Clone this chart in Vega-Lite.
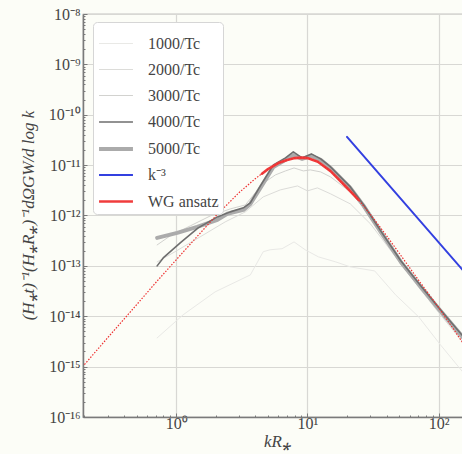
{
  "$schema": "https://vega.github.io/schema/vega-lite/v6.json",
  "width": 380,
  "height": 403,
  "autosize": {"type": "none"},
  "padding": {"left": 83, "top": 14, "right": 0, "bottom": 37},
  "background": "#fcfdf7",
  "config": {
    "view": {"stroke": "#8c8c8c", "strokeWidth": 1.2},
    "font": "Liberation Serif"
  },
  "datasets": {
    "spectra": [
      {"s": "1000/Tc", "k": 0.716, "v": 3.72e-15},
      {"s": "1000/Tc", "k": 1.13, "v": 1.07e-14},
      {"s": "1000/Tc", "k": 1.98, "v": 3.05e-14},
      {"s": "1000/Tc", "k": 3.67, "v": 6.61e-14},
      {"s": "1000/Tc", "k": 4.6, "v": 1.91e-13},
      {"s": "1000/Tc", "k": 5.2, "v": 2.09e-13},
      {"s": "1000/Tc", "k": 6.4, "v": 2.19e-13},
      {"s": "1000/Tc", "k": 7.9, "v": 2.99e-13},
      {"s": "1000/Tc", "k": 9.6, "v": 2.09e-13},
      {"s": "1000/Tc", "k": 12.1, "v": 1.51e-13},
      {"s": "1000/Tc", "k": 16.4, "v": 1.2e-13},
      {"s": "1000/Tc", "k": 21.2, "v": 9.55e-14},
      {"s": "1000/Tc", "k": 32.5, "v": 7.94e-14},
      {"s": "1000/Tc", "k": 46.9, "v": 2.66e-14},
      {"s": "1000/Tc", "k": 70.2, "v": 9.77e-15},
      {"s": "1000/Tc", "k": 103, "v": 2.71e-15},
      {"s": "1000/Tc", "k": 152, "v": 7.89e-16},

      {"s": "2000/Tc", "k": 0.716, "v": 1.2e-13},
      {"s": "2000/Tc", "k": 0.98, "v": 1.91e-13},
      {"s": "2000/Tc", "k": 1.52, "v": 3.76e-13},
      {"s": "2000/Tc", "k": 2.36, "v": 7.46e-13},
      {"s": "2000/Tc", "k": 3.36, "v": 1.18e-12},
      {"s": "2000/Tc", "k": 4.6, "v": 2.34e-12},
      {"s": "2000/Tc", "k": 6.2, "v": 3.22e-12},
      {"s": "2000/Tc", "k": 8.4, "v": 3.86e-12},
      {"s": "2000/Tc", "k": 10, "v": 3.08e-12},
      {"s": "2000/Tc", "k": 11.9, "v": 3.53e-12},
      {"s": "2000/Tc", "k": 15, "v": 2.69e-12},
      {"s": "2000/Tc", "k": 21.2, "v": 1.7e-12},
      {"s": "2000/Tc", "k": 30.2, "v": 6.81e-13},
      {"s": "2000/Tc", "k": 42.8, "v": 2.07e-13},
      {"s": "2000/Tc", "k": 60.9, "v": 6.34e-14},
      {"s": "2000/Tc", "k": 100, "v": 1.17e-14},
      {"s": "2000/Tc", "k": 152, "v": 3.1e-15},

      {"s": "3000/Tc", "k": 0.716, "v": 2.61e-13},
      {"s": "3000/Tc", "k": 0.9, "v": 3.94e-13},
      {"s": "3000/Tc", "k": 1.28, "v": 6.22e-13},
      {"s": "3000/Tc", "k": 1.82, "v": 9.82e-13},
      {"s": "3000/Tc", "k": 2.58, "v": 1.35e-12},
      {"s": "3000/Tc", "k": 3.36, "v": 1.62e-12},
      {"s": "3000/Tc", "k": 4.0, "v": 2.82e-12},
      {"s": "3000/Tc", "k": 4.77, "v": 4.65e-12},
      {"s": "3000/Tc", "k": 5.7, "v": 6.4e-12},
      {"s": "3000/Tc", "k": 6.8, "v": 7.67e-12},
      {"s": "3000/Tc", "k": 7.9, "v": 8.79e-12},
      {"s": "3000/Tc", "k": 9.3, "v": 7.67e-12},
      {"s": "3000/Tc", "k": 10.5, "v": 8.04e-12},
      {"s": "3000/Tc", "k": 12.6, "v": 7.33e-12},
      {"s": "3000/Tc", "k": 15, "v": 5.83e-12},
      {"s": "3000/Tc", "k": 21.2, "v": 2.94e-12},
      {"s": "3000/Tc", "k": 26.8, "v": 1.41e-12},
      {"s": "3000/Tc", "k": 36.1, "v": 4.32e-13},
      {"s": "3000/Tc", "k": 51.4, "v": 1.1e-13},
      {"s": "3000/Tc", "k": 72.8, "v": 3.34e-14},
      {"s": "3000/Tc", "k": 100, "v": 1.22e-14},
      {"s": "3000/Tc", "k": 152, "v": 3.4e-15},

      {"s": "5000/Tc", "k": 0.716, "v": 3.6e-13},
      {"s": "5000/Tc", "k": 1.018, "v": 4.52e-13},
      {"s": "5000/Tc", "k": 1.446, "v": 5.94e-13},
      {"s": "5000/Tc", "k": 2.06, "v": 8.18e-13},
      {"s": "5000/Tc", "k": 2.45, "v": 1.08e-12},
      {"s": "5000/Tc", "k": 3.25, "v": 1.29e-12},
      {"s": "5000/Tc", "k": 3.67, "v": 1.7e-12},
      {"s": "5000/Tc", "k": 4.38, "v": 3.53e-12},
      {"s": "5000/Tc", "k": 5.5, "v": 9.2e-12},
      {"s": "5000/Tc", "k": 6.8, "v": 1.27e-11},
      {"s": "5000/Tc", "k": 7.8, "v": 1.58e-11},
      {"s": "5000/Tc", "k": 9.1, "v": 1.33e-11},
      {"s": "5000/Tc", "k": 10.7, "v": 1.52e-11},
      {"s": "5000/Tc", "k": 12.6, "v": 1.27e-11},
      {"s": "5000/Tc", "k": 15, "v": 8.79e-12},
      {"s": "5000/Tc", "k": 21.2, "v": 3.53e-12},
      {"s": "5000/Tc", "k": 26.8, "v": 1.55e-12},
      {"s": "5000/Tc", "k": 36.1, "v": 4.73e-13},
      {"s": "5000/Tc", "k": 51.4, "v": 1.2e-13},
      {"s": "5000/Tc", "k": 72.8, "v": 3.83e-14},
      {"s": "5000/Tc", "k": 100, "v": 1.4e-14},
      {"s": "5000/Tc", "k": 152, "v": 3.9e-15},

      {"s": "4000/Tc", "k": 0.716, "v": 1.0e-13},
      {"s": "4000/Tc", "k": 0.796, "v": 1.44e-13},
      {"s": "4000/Tc", "k": 1.073, "v": 2.86e-13},
      {"s": "4000/Tc", "k": 1.47, "v": 5.68e-13},
      {"s": "4000/Tc", "k": 2.06, "v": 9.38e-13},
      {"s": "4000/Tc", "k": 2.58, "v": 1.18e-12},
      {"s": "4000/Tc", "k": 3.25, "v": 1.42e-12},
      {"s": "4000/Tc", "k": 3.67, "v": 1.78e-12},
      {"s": "4000/Tc", "k": 4.38, "v": 3.86e-12},
      {"s": "4000/Tc", "k": 5.5, "v": 1.01e-11},
      {"s": "4000/Tc", "k": 6.8, "v": 1.39e-11},
      {"s": "4000/Tc", "k": 7.8, "v": 1.83e-11},
      {"s": "4000/Tc", "k": 9.1, "v": 1.39e-11},
      {"s": "4000/Tc", "k": 10.7, "v": 1.67e-11},
      {"s": "4000/Tc", "k": 12.6, "v": 1.33e-11},
      {"s": "4000/Tc", "k": 15, "v": 9.2e-12},
      {"s": "4000/Tc", "k": 21.2, "v": 3.69e-12},
      {"s": "4000/Tc", "k": 26.8, "v": 1.62e-12},
      {"s": "4000/Tc", "k": 36.1, "v": 4.94e-13},
      {"s": "4000/Tc", "k": 51.4, "v": 1.26e-13},
      {"s": "4000/Tc", "k": 72.8, "v": 4.01e-14},
      {"s": "4000/Tc", "k": 100, "v": 1.47e-14},
      {"s": "4000/Tc", "k": 152, "v": 4.08e-15},

      {"s": "k⁻³", "k": 20, "v": 3.63e-11},
      {"s": "k⁻³", "k": 152, "v": 8.32e-14},

      {"s": "WG ansatz", "k": 4.5, "v": 6.76e-12},
      {"s": "WG ansatz", "k": 5, "v": 8.32e-12},
      {"s": "WG ansatz", "k": 6, "v": 1.1e-11},
      {"s": "WG ansatz", "k": 7, "v": 1.26e-11},
      {"s": "WG ansatz", "k": 8, "v": 1.38e-11},
      {"s": "WG ansatz", "k": 9, "v": 1.41e-11},
      {"s": "WG ansatz", "k": 10, "v": 1.38e-11},
      {"s": "WG ansatz", "k": 12, "v": 1.17e-11},
      {"s": "WG ansatz", "k": 15, "v": 7.59e-12},
      {"s": "WG ansatz", "k": 20, "v": 3.55e-12},
      {"s": "WG ansatz", "k": 24.5, "v": 2.04e-12}
    ],
    "ansatz": [
      {"k": 0.2, "v": 1.1e-15},
      {"k": 0.3, "v": 3.72e-15},
      {"k": 0.5, "v": 1.7e-14},
      {"k": 0.7, "v": 4.68e-14},
      {"k": 1, "v": 1.32e-13},
      {"k": 1.5, "v": 4.27e-13},
      {"k": 2, "v": 9.77e-13},
      {"k": 3, "v": 2.82e-12},
      {"k": 4, "v": 5.37e-12},
      {"k": 5, "v": 8.32e-12},
      {"k": 6, "v": 1.1e-11},
      {"k": 7, "v": 1.26e-11},
      {"k": 8, "v": 1.38e-11},
      {"k": 9, "v": 1.41e-11},
      {"k": 10, "v": 1.38e-11},
      {"k": 12, "v": 1.17e-11},
      {"k": 15, "v": 7.59e-12},
      {"k": 20, "v": 3.55e-12},
      {"k": 25, "v": 1.91e-12},
      {"k": 30, "v": 1.07e-12},
      {"k": 40, "v": 3.98e-13},
      {"k": 50, "v": 1.78e-13},
      {"k": 70, "v": 5.25e-14},
      {"k": 100, "v": 1.48e-14},
      {"k": 152, "v": 3.02e-15}
    ]
  },
  "encoding": {
    "x": {
      "field": "k",
      "type": "quantitative",
      "scale": {"type": "log", "domain": [0.195, 153], "nice": false},
      "axis": {
        "title": "kR⁎",
        "titleFont": "Liberation Serif",
        "titleFontStyle": "italic",
        "titleFontWeight": "normal",
        "titleFontSize": 17,
        "titleColor": "#444",
        "titleX": 194,
        "titleY": 24,
        "titleBaseline": "middle",
        "titleAlign": "center",
        "values": [0.2, 0.3, 0.4, 0.5, 0.6, 0.7, 0.8, 0.9, 1, 2, 3, 4, 5, 6, 7, 8, 9, 10, 20, 30, 40, 50, 60, 70, 80, 90, 100],
        "labelExpr": "datum.value == 1 ? '10⁰' : datum.value == 10 ? '10¹' : datum.value == 100 ? '10²' : ''",
        "labelFont": "Liberation Serif",
        "labelFontSize": 16,
        "labelColor": "#444",
        "labelPadding": 10,
        "labelBaseline": "middle",
        "labelFlush": false,
        "labelOverlap": false,
        "domainColor": "#7a7a7a",
        "domainWidth": 1.5,
        "tickColor": "#7a7a7a",
        "tickWidth": 1,
        "tickSize": {"condition": {"test": "datum.value == 1 || datum.value == 10 || datum.value == 100", "value": -4}, "value": -2},
        "grid": true,
        "gridColor": "#d8d8d4",
        "gridWidth": 1.2,
        "gridOpacity": {"condition": {"test": "datum.value == 1 || datum.value == 10 || datum.value == 100", "value": 1}, "value": 0}
      }
    },
    "y": {
      "field": "v",
      "type": "quantitative",
      "scale": {"type": "log", "domain": [1e-16, 1e-8], "nice": false},
      "axis": {
        "title": "(H⁎t)⁻¹(H⁎R⁎)⁻¹dΩGW/d log k",
        "titleFont": "Liberation Serif",
        "titleFontStyle": "italic",
        "titleFontWeight": "normal",
        "titleFontSize": 17,
        "titleColor": "#444",
        "titleAngle": -90,
        "titleX": -55,
        "titleY": 201,
        "titleAlign": "center",
        "titleBaseline": "middle",
        "values": [1e-16, 2e-16, 3e-16, 4e-16, 5e-16, 6e-16, 7e-16, 8e-16, 9e-16,
                   1e-15, 2e-15, 3e-15, 4e-15, 5e-15, 6e-15, 7e-15, 8e-15, 9e-15,
                   1e-14, 2e-14, 3e-14, 4e-14, 5e-14, 6e-14, 7e-14, 8e-14, 9e-14,
                   1e-13, 2e-13, 3e-13, 4e-13, 5e-13, 6e-13, 7e-13, 8e-13, 9e-13,
                   1e-12, 2e-12, 3e-12, 4e-12, 5e-12, 6e-12, 7e-12, 8e-12, 9e-12,
                   1e-11, 2e-11, 3e-11, 4e-11, 5e-11, 6e-11, 7e-11, 8e-11, 9e-11,
                   1e-10, 2e-10, 3e-10, 4e-10, 5e-10, 6e-10, 7e-10, 8e-10, 9e-10,
                   1e-9, 2e-9, 3e-9, 4e-9, 5e-9, 6e-9, 7e-9, 8e-9, 9e-9, 1e-8],
        "labelExpr": "datum.value == 1e-8 ? '10⁻⁸' : datum.value == 1e-9 ? '10⁻⁹' : datum.value == 1e-10 ? '10⁻¹⁰' : datum.value == 1e-11 ? '10⁻¹¹' : datum.value == 1e-12 ? '10⁻¹²' : datum.value == 1e-13 ? '10⁻¹³' : datum.value == 1e-14 ? '10⁻¹⁴' : datum.value == 1e-15 ? '10⁻¹⁵' : datum.value == 1e-16 ? '10⁻¹⁶' : ''",
        "labelFont": "Liberation Serif",
        "labelFontSize": 16,
        "labelColor": "#444",
        "labelPadding": 7,
        "labelFlush": false,
        "labelOverlap": false,
        "domainColor": "#7a7a7a",
        "domainWidth": 1.5,
        "tickColor": "#7a7a7a",
        "tickWidth": 1,
        "tickSize": {"condition": {"test": "indexof([1e-16,1e-15,1e-14,1e-13,1e-12,1e-11,1e-10,1e-9,1e-8], datum.value) >= 0", "value": -4}, "value": -2},
        "grid": true,
        "gridColor": "#d8d8d4",
        "gridWidth": 1.2,
        "gridOpacity": {"condition": {"test": "indexof([1e-16,1e-15,1e-14,1e-13,1e-12,1e-11,1e-10,1e-9,1e-8], datum.value) >= 0", "value": 1}, "value": 0}
      }
    }
  },
  "layer": [
    {
      "data": {"name": "spectra"},
      "mark": {"type": "line", "clip": true, "strokeCap": "round", "strokeJoin": "round"},
      "encoding": {
        "color": {
          "field": "s",
          "type": "nominal",
          "scale": {
            "domain": ["1000/Tc", "2000/Tc", "3000/Tc", "4000/Tc", "5000/Tc", "k⁻³", "WG ansatz"],
            "range": ["#e9e9e6", "#dcdcd9", "#d2d2cf", "#6e6e6e", "#ababab", "#3340e0", "#f03c3c"]
          },
          "legend": {
            "title": null,
            "orient": "none",
            "legendX": 10,
            "legendY": 8,
            "symbolType": "stroke",
            "symbolSize": 1150,
            "labelFont": "Liberation Serif",
            "labelFontSize": 16,
            "labelColor": "#444",
            "labelOffset": 13,
            "fillColor": "#ffffff",
            "strokeColor": "#d6d6d6",
            "cornerRadius": 4,
            "padding": 4,
            "rowPadding": -5,
            "encode": {
              "symbols": {"update": {"strokeWidth": {"scale": "strokeWidth", "field": "value"}}}
            }
          }
        },
        "strokeWidth": {
          "field": "s",
          "type": "nominal",
          "scale": {
            "type": "ordinal",
            "domain": ["1000/Tc", "2000/Tc", "3000/Tc", "4000/Tc", "5000/Tc", "k⁻³", "WG ansatz"],
            "range": [1, 1, 1, 1.6, 4, 2, 2.6]
          },
          "legend": null
        }
      }
    },
    {
      "data": {"name": "ansatz"},
      "mark": {"type": "line", "clip": true, "color": "#ee3030", "strokeWidth": 1.2, "strokeDash": [1.5, 1.5]},
      "encoding": {}
    }
  ]
}
